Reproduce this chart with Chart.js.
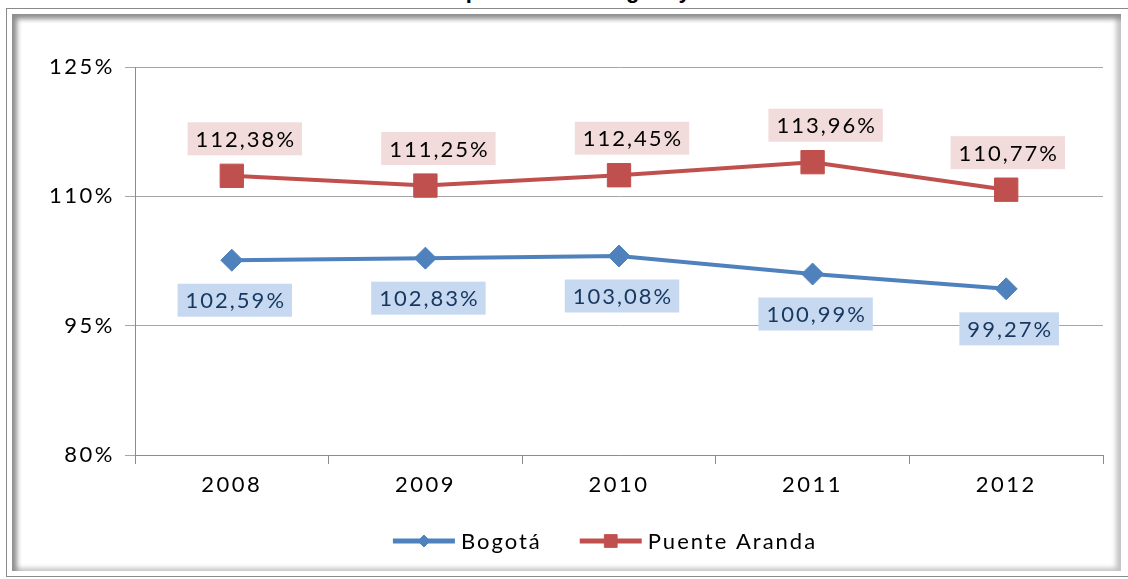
<!DOCTYPE html>
<html>
<head>
<meta charset="utf-8">
<script src="https://cdn.jsdelivr.net/npm/chart.js@4.4.1/dist/chart.umd.min.js"></script>
<style>
  html, body { margin: 0; padding: 0; width: 1128px; height: 579px; overflow: hidden; background: #fff; }
  #title { position: absolute; left: 0; top: -22px; width: 1128px; text-align: center; white-space: nowrap;
           font: bold 22px "Liberation Sans", Arial, sans-serif; color: #000; }
  #frame { position: absolute; left: 6px; top: 8px; width: 1130px; height: 569px; box-sizing: border-box;
           border: 1px solid #8a8a8a; background: #fff; }
  #inner { position: absolute; left: 5px; top: 5px; width: 1109px; height: 557px; box-sizing: border-box;
           box-shadow: inset 8px 8px 5px -3px #8f8f8f, inset -8px -6px 5px -3px #c4c4c4; }
  #chart { position: absolute; left: 0; top: 0; }
</style>
</head>
<body>
<div id="title">Gráfico 1. Tasa de Cobertura Bruta comparada total Bogotá y localidad Puente Aranda 2008 - 2012</div>
<div id="frame"><div id="inner"></div></div>
<canvas id="chart" width="1128" height="579"></canvas>
<script>
// categories and series
const years = ['2008', '2009', '2010', '2011', '2012'];
const bogota = [102.59, 102.83, 103.08, 100.99, 99.27];
const puenteAranda = [112.38, 111.25, 112.45, 113.96, 110.77];
const yTicks = [80, 95, 110, 125];

const FONT = 'Lato, "Open Sans", sans-serif';

function pct(v) {
    return v.toFixed(2).replace('.', ',') + '%';
}

// wide letter spacing, like the Tw Cen look of the original
const spacingPlugin = {
    id: 'spacing',
    beforeDraw(chart) {
        chart.ctx.letterSpacing = '2.5px';
    }
};

// value boxes above / below each point
const valueBoxes = {
    id: 'valueBoxes',
    afterDatasetsDraw(chart) {
        const ctx = chart.ctx;
        const area = chart.chartArea;
        chart.data.datasets.forEach((ds, i) => {
            const meta = chart.getDatasetMeta(i);
            meta.data.forEach((pt, j) => {
                const text = pct(ds.data[j]);
                ctx.save();
                ctx.font = '22px ' + FONT;
                ctx.letterSpacing = '2px';
                const w = ctx.measureText(text).width + 14;
                const h = 33;
                let cx = pt.x + ds.boxDx;
                if (cx + w / 2 > area.right - 38) cx = area.right - 38 - w / 2;
                const cy = pt.y + ds.boxDy;
                ctx.fillStyle = ds.boxFill;
                ctx.fillRect(cx - w / 2, cy - h / 2, w, h);
                ctx.fillStyle = ds.boxText;
                ctx.textAlign = 'center';
                ctx.textBaseline = 'middle';
                ctx.fillText(text, cx + 1, cy + 1);
                ctx.restore();
            });
        });
    }
};

// legend: line with marker, then the name
const lineLegend = {
    id: 'lineLegend',
    afterDraw(chart) {
        const ctx = chart.ctx;
        const y = 541;
        const lineW = 62, gap = 6, itemGap = 38;
        ctx.save();
        ctx.font = '22px ' + FONT;
        ctx.letterSpacing = '2px';
        const items = chart.data.datasets.map(ds => ({ ds, tw: ctx.measureText(ds.label).width }));
        const total = items.reduce((s, it) => s + lineW + gap + it.tw, 0) + itemGap * (items.length - 1);
        let x = 605 - total / 2;
        items.forEach(it => {
            const ds = it.ds;
            ctx.strokeStyle = ds.borderColor;
            ctx.lineWidth = 5;
            ctx.beginPath();
            ctx.moveTo(x, y);
            ctx.lineTo(x + lineW, y);
            ctx.stroke();
            ctx.fillStyle = ds.borderColor;
            ctx.lineWidth = 1;
            Chart.helpers.drawPoint(ctx, {
                pointStyle: ds.pointStyle,
                radius: ds.pointStyle === 'rect' ? 9 : 6,
                borderWidth: 1
            }, x + lineW / 2, y);
            ctx.fillStyle = '#000';
            ctx.textAlign = 'left';
            ctx.textBaseline = 'middle';
            ctx.fillText(ds.label, x + lineW + gap, y + 1);
            x += lineW + gap + it.tw + itemGap;
        });
        ctx.restore();
    }
};

new Chart(document.getElementById('chart'), {
    type: 'line',
    data: {
        labels: years,
        datasets: [
            {
                label: 'Bogotá',
                data: bogota,
                borderColor: '#4f81bd',
                backgroundColor: '#4f81bd',
                borderWidth: 4,
                pointStyle: 'rectRot',
                pointRadius: 11,
                pointBorderWidth: 1,
                tension: 0,
                boxDx: 3, boxDy: 40,
                boxFill: '#c6d9f1', boxText: '#17375e'
            },
            {
                label: 'Puente Aranda',
                data: puenteAranda,
                borderColor: '#c0504d',
                backgroundColor: '#c0504d',
                borderWidth: 4,
                pointStyle: 'rect',
                pointRadius: 16.5,
                pointBorderWidth: 1,
                tension: 0,
                boxDx: 13, boxDy: -37,
                boxFill: '#f2dcdb', boxText: '#000'
            }
        ]
    },
    options: {
        responsive: false,
        animation: false,
        layout: { padding: { top: 67, right: 25, bottom: 0, left: 0 } },
        plugins: {
            legend: { display: false },
            tooltip: { enabled: false }
        },
        scales: {
            x: {
                offset: true,
                grid: { offset: true, drawOnChartArea: false, tickLength: 9, color: '#8c8c8c' },
                border: { color: '#8c8c8c' },
                ticks: { color: '#000', font: { family: FONT, size: 22 }, padding: 8 },
                afterFit(scale) { scale.height = 124; }
            },
            y: {
                min: yTicks[0],
                max: yTicks[yTicks.length - 1],
                afterBuildTicks(scale) { scale.ticks = yTicks.map(v => ({ value: v })); },
                grid: { color: '#a6a6a6', tickLength: 10 },
                border: { color: '#8c8c8c' },
                ticks: { color: '#000', font: { family: FONT, size: 22 }, padding: 10, callback: v => v + '%' },
                afterFit(scale) { scale.width = 135; }
            }
        }
    },
    plugins: [spacingPlugin, valueBoxes, lineLegend]
});
</script>
</body>
</html>
